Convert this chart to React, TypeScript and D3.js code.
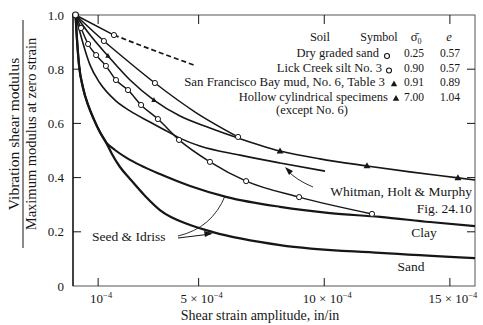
import React from "react";
import * as d3 from "d3";

// strain in units of 10^-4 in/in, modulus ratio G / Gmax
const drySandMeasured = [[0.1, 1.0], [1.63, 0.926]];
const drySandExtrapolated = [[1.63, 0.926], [3.2, 0.87], [4.82, 0.815]];
const drySandPoints = [[1.63, 0.926]];

const lickCreek = [[0.1, 1.0], [1.23, 0.904], [2.27, 0.823], [3.26, 0.749], [4.86, 0.642], [6.57, 0.55]];
const lickCreekPoints = [[1.23, 0.904], [3.26, 0.749], [6.57, 0.55]];

const hollowCyl = [
  [0.1, 1.0], [0.68, 0.926], [1.39, 0.849], [2.27, 0.76], [3.22, 0.686], [4.26, 0.627],
  [5.45, 0.583], [6.57, 0.546], [8.24, 0.498], [9.83, 0.469], [11.7, 0.443], [13.41, 0.421],
  [15.32, 0.399], [16.0, 0.391],
];
const hollowCylPoints = [[1.39, 0.849], [3.22, 0.686], [8.24, 0.498], [11.7, 0.443], [15.32, 0.399]];

const siltCircles = [
  [0.1, 1.0], [0.32, 0.952], [0.6, 0.893], [0.92, 0.852], [1.31, 0.812], [1.71, 0.76],
  [2.19, 0.723], [2.71, 0.668], [3.38, 0.616], [4.22, 0.539], [5.45, 0.458], [6.89, 0.387],
  [9.0, 0.328], [11.9, 0.266],
];

const whitman = [
  [0.1, 1.0], [0.36, 0.908], [0.68, 0.815], [1.07, 0.749], [1.67, 0.686], [2.27, 0.646],
  [3.06, 0.605], [3.86, 0.565], [4.34, 0.542], [5.05, 0.517], [6.65, 0.483], [8.24, 0.454],
  [10.03, 0.424],
];

const seedClay = [
  [0.1, 1.0], [0.16, 0.908], [0.24, 0.815], [0.4, 0.731], [0.6, 0.668], [0.84, 0.613],
  [1.07, 0.568], [1.31, 0.531], [1.67, 0.502], [2.15, 0.472], [2.67, 0.446], [3.46, 0.413],
  [4.66, 0.369], [6.13, 0.328], [8.24, 0.292], [10.23, 0.269], [12.22, 0.255], [14.21, 0.236],
  [16.0, 0.221],
];

const seedSand = [
  [0.1, 1.0], [0.16, 0.908], [0.24, 0.815], [0.4, 0.731], [0.6, 0.668], [0.84, 0.613],
  [1.07, 0.568], [1.31, 0.531], [1.55, 0.487], [1.87, 0.439], [2.27, 0.395], [2.87, 0.332],
  [3.46, 0.28], [4.66, 0.225], [5.57, 0.199], [8.24, 0.151], [12.22, 0.122], [16.0, 0.103],
];

const xTicks = [1, 5, 10, 15];
const xTickBase = ["10", "5 × 10", "10 × 10", "15 × 10"];
const yTicks = [0, 0.2, 0.4, 0.6, 0.8, 1.0];
const yTickLabels = ["0", "0.2", "0.4", "0.6", "0.8", "1.0"];

const legendSoils = [
  "Dry graded sand",
  "Lick Creek silt No. 3",
  "San Francisco Bay mud, No. 6, Table 3",
  "Hollow cylindrical specimens",
];
const legendSymbols = ["circle", "circle", "triangle", "triangle"];
const legendSigma = ["0.25", "0.90", "0.91", "7.00"];
const legendE = ["0.57", "0.57", "0.89", "1.04"];

export default function App() {
  const x = d3.scaleLinear().domain([0, 16]).range([73, 475]);
  const y = d3.scaleLinear().domain([0, 1]).range([286, 15]);
  const line = d3
    .line<number[]>()
    .x((d) => x(d[0]))
    .y((d) => y(d[1]))
    .curve(d3.curveMonotoneX);
  const straight = d3
    .line<number[]>()
    .x((d) => x(d[0]))
    .y((d) => y(d[1]));

  const ink = "#161616";
  const tri = (cx: number, cy: number, s: number) =>
    `M${cx},${cy - s}L${cx + s * 0.95},${cy + s * 0.65}L${cx - s * 0.95},${cy + s * 0.65}Z`;

  return (
    <svg
      width={483}
      height={325}
      style={{ position: "absolute", left: 0, top: 0, background: "#fff" }}
      fontFamily="'Liberation Serif', 'DejaVu Serif', serif"
    >
      {/* frame */}
      <rect x={73} y={15} width={402} height={271} fill="none" stroke="#555" strokeWidth={1} />
      <line x1={73} x2={73} y1={15} y2={286} stroke={ink} strokeWidth={1.4} />

      {/* ticks */}
      {yTicks.slice(1, -1).map((v) => (
        <g key={"yt" + v}>
          <line x1={73} x2={81} y1={y(v)} y2={y(v)} stroke={ink} />
          <line x1={475} x2={467} y1={y(v)} y2={y(v)} stroke={ink} />
        </g>
      ))}
      {xTicks.map((v) => (
        <g key={"xt" + v}>
          <line x1={x(v)} x2={x(v)} y1={286} y2={278} stroke={ink} />
          <line x1={x(v)} x2={x(v)} y1={15} y2={24} stroke={ink} />
        </g>
      ))}

      {/* tick labels */}
      {yTicks.map((v, i) => (
        <text key={"yl" + v} x={64} y={y(v) + 4.5} textAnchor="end" fontSize={13} fill={ink}>
          {yTickLabels[i]}
        </text>
      ))}
      {xTicks.map((v, i) => (
        <text key={"xl" + v} x={x(v) + 3} y={303} textAnchor="middle" fontSize={13} fill={ink}>
          {xTickBase[i]}
          <tspan dy={-5} fontSize={8.5}>
            −4
          </tspan>
        </text>
      ))}

      {/* axis titles */}
      <text x={260} y={320} textAnchor="middle" fontSize={14} fill={ink}>
        Shear strain amplitude, in/in
      </text>
      <g transform="translate(23,134) rotate(-90)">
        <text x={0} y={-4} textAnchor="middle" fontSize={15.5} fill={ink}>
          Vibration shear modulus
        </text>
        <line x1={-114} x2={114} y1={0} y2={0} stroke={ink} strokeWidth={1} />
        <text x={0} y={13} textAnchor="middle" fontSize={14.5} fill={ink}>
          Maximum modulus at zero strain
        </text>
      </g>

      {/* curves */}
      <path d={line(seedSand) ?? ""} fill="none" stroke={ink} strokeWidth={2.3} />
      <path d={line(seedClay) ?? ""} fill="none" stroke={ink} strokeWidth={2.1} />
      <path d={line(whitman) ?? ""} fill="none" stroke={ink} strokeWidth={1.6} />
      <path d={line(siltCircles) ?? ""} fill="none" stroke={ink} strokeWidth={1.5} />
      <path d={line(hollowCyl) ?? ""} fill="none" stroke={ink} strokeWidth={1.6} />
      <path d={line(lickCreek) ?? ""} fill="none" stroke={ink} strokeWidth={1.5} />
      <path d={straight(drySandMeasured) ?? ""} fill="none" stroke={ink} strokeWidth={1.5} />
      <path
        d={line(drySandExtrapolated) ?? ""}
        fill="none"
        stroke={ink}
        strokeWidth={1.8}
        strokeDasharray="5,3"
      />

      {/* markers */}
      {siltCircles.slice(1).map((d, i) => (
        <circle key={"sc" + i} cx={x(d[0])} cy={y(d[1])} r={2.6} fill="#fff" stroke={ink} strokeWidth={1} />
      ))}
      {lickCreekPoints.concat(drySandPoints).map((d, i) => (
        <circle key={"lc" + i} cx={x(d[0])} cy={y(d[1])} r={2.6} fill="#fff" stroke={ink} strokeWidth={1} />
      ))}
      {hollowCylPoints.map((d, i) => (
        <path key={"ht" + i} d={tri(x(d[0]), y(d[1]), i < 2 ? 2.8 : 3.6)} fill={ink} />
      ))}
      <circle cx={x(0.1)} cy={y(1.0)} r={3} fill="#fff" stroke={ink} strokeWidth={1.2} />

      {/* legend */}
      <g fontSize={12.5} fill={ink}>
        <text x={320} y={41} textAnchor="middle">Soil</text>
        <text x={379} y={41} textAnchor="middle" fontSize={12}>Symbol</text>
        <text x={416} y={41} textAnchor="middle">
          σ̄
          <tspan dy={3} fontSize={8}>0</tspan>
        </text>
        <text x={449} y={41} textAnchor="middle" fontStyle="italic">e</text>
        {legendSoils.map((s, i) => (
          <g key={s}>
            <text x={379 + i * 3} y={57 + i * 14.5} textAnchor="end" fontSize={i === 2 ? 12.8 : 12.5}>
              {s}
            </text>
            {legendSymbols[i] === "circle" ? (
              <circle cx={387 + i * 2} cy={56 + i * 14.5} r={2.5} fill="#fff" stroke={ink} strokeWidth={1.1} />
            ) : (
              <path d={tri(390 + i * 2, 55 + i * 14.5, 3.4)} fill={ink} />
            )}
            <text x={414} y={57 + i * 14.5} textAnchor="middle" fontSize={11.5}>{legendSigma[i]}</text>
            <text x={450} y={57 + i * 14.5} textAnchor="middle" fontSize={11.5}>{legendE[i]}</text>
          </g>
        ))}
        <text x={276} y={114}>(except No. 6)</text>
      </g>

      {/* annotations */}
      <text x={472} y={196} textAnchor="end" fontSize={13.5} fill={ink}>
        Whitman, Holt &amp; Murphy
      </text>
      <text x={472} y={213} textAnchor="end" fontSize={13.5} fill={ink}>
        Fig. 24.10
      </text>
      <path d="M313,187 Q296,180 287,170" fill="none" stroke={ink} strokeWidth={0.9} />
      <path d="M285,167 L293,171 L289,175 Z" fill={ink} />
      <text x={424} y={237} textAnchor="middle" fontSize={13.5} fill={ink}>Clay</text>
      <text x={411} y={271} textAnchor="middle" fontSize={13.5} fill={ink}>Sand</text>
      <text x={92} y={241} fontSize={13.5} fill={ink}>Seed &amp; Idriss</text>
      <path d="M178,236 Q212,228 225,196" fill="none" stroke={ink} strokeWidth={0.9} />
      <path d="M178,238 L211,234" fill="none" stroke={ink} strokeWidth={1.2} />
      <path d="M213,233 L204,231 L205,237 Z" fill={ink} />
    </svg>
  );
}
